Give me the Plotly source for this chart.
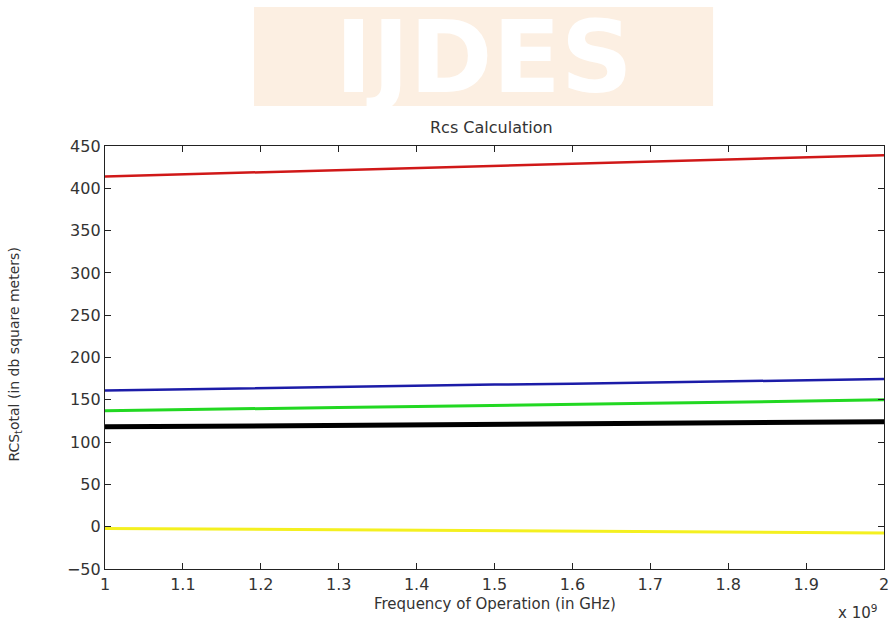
import plotly.graph_objects as go

# Frequency points (Hz)
freq = [1.0e9, 1.1e9, 1.2e9, 1.3e9, 1.4e9, 1.5e9, 1.6e9, 1.7e9, 1.8e9, 1.9e9, 2.0e9]

# RCS values (dB square meters)
rcs_red = [414, 416.5, 419, 421.5, 424, 426.5, 429, 431.5, 434, 436.5, 439]
rcs_blue = [161, 162.5, 164, 165, 166.5, 168, 169, 170.5, 172, 173, 174.5]
rcs_green = [137, 138.5, 140, 141, 142, 143.5, 144.5, 146, 147, 148.5, 150]
rcs_black = [118, 118.5, 119, 119.5, 120, 121, 121.5, 122, 122.5, 123, 124]
rcs_yellow = [-2, -2.5, -3, -3.5, -4, -4.5, -5, -5.5, -6, -7, -7.5]

series = [
    (rcs_red, "#d01818", 2.5),
    (rcs_blue, "#1c1ca8", 2.5),
    (rcs_green, "#22d822", 3),
    (rcs_black, "#000000", 5),
    (rcs_yellow, "#f4f020", 3),
]

x_ticks = [1.0e9, 1.1e9, 1.2e9, 1.3e9, 1.4e9, 1.5e9, 1.6e9, 1.7e9, 1.8e9, 1.9e9, 2.0e9]
x_tick_labels = ["1", "1.1", "1.2", "1.3", "1.4", "1.5", "1.6", "1.7", "1.8", "1.9", "2"]
y_ticks = [-50, 0, 50, 100, 150, 200, 250, 300, 350, 400, 450]

FONT = "DejaVu Sans"

fig = go.Figure()
for vals, col, w in series:
    fig.add_trace(go.Scatter(x=freq, y=vals, mode="lines", line=dict(color=col, width=w),
                             showlegend=False, hoverinfo="skip"))

W, H = 895, 622
L, R, T, B = 105, 889, 146, 569
pw, ph = R - L, B - T

def px(xp):
    return (xp - L) / pw

def py(yp):
    return (B - yp) / ph

axis_common = dict(ticks="inside", ticklen=6, tickcolor="#222", showline=True, linecolor="#222",
                   linewidth=1.3, mirror="ticks", showgrid=False, zeroline=False,
                   tickfont=dict(family=FONT, size=16, color="#333"))

fig.update_layout(
    width=W, height=H,
    margin=dict(l=L, r=W - R, t=T, b=H - B, pad=0),
    paper_bgcolor="white", plot_bgcolor="white",
    font=dict(family=FONT, size=15, color="#222222"),
    xaxis=dict(range=[1.0e9, 2.0e9], tickvals=x_ticks, ticktext=x_tick_labels,
               ticklabeloverflow="allow", ticklabelstandoff=1, **axis_common),
    yaxis=dict(range=[-50, 450], tickvals=y_ticks, **axis_common),
    shapes=[dict(type="rect", xref="paper", yref="paper",
                 x0=px(255), x1=px(717), y0=py(106), y1=py(7),
                 fillcolor="#fcefe2", line=dict(width=0), layer="below")],
    annotations=[
        dict(text="<b>IJDES</b>", xref="paper", yref="paper", x=px(486), y=py(58),
             xanchor="center", yanchor="middle", showarrow=False,
             font=dict(family="DejaVu Sans", size=100, color="white")),
        dict(text="Rcs Calculation", xref="paper", yref="paper", x=px(494), y=py(128),
             xanchor="center", yanchor="middle", showarrow=False,
             font=dict(family=FONT, size=16, color="#333")),
        dict(text="Frequency of Operation (in GHz)", xref="paper", yref="paper",
             x=px(497), y=py(604), xanchor="center", yanchor="middle", showarrow=False,
             font=dict(family=FONT, size=15, color="#333")),
        dict(text="x 10<sup>9</sup>", xref="paper", yref="paper",
             x=px(862), y=py(612), xanchor="center", yanchor="middle", showarrow=False,
             font=dict(family=FONT, size=15, color="#333")),
        dict(text="RCS<sub>t</sub>otal (in db square meters)", xref="paper", yref="paper",
             x=px(14), y=py(355), xanchor="center", yanchor="middle", showarrow=False,
             textangle=-90, font=dict(family=FONT, size=14, color="#333")),
    ],
)

fig.write_html("out.html", config={"displayModeBar": False},
               post_script="document.body.style.margin='0';document.body.style.overflow='hidden';")
